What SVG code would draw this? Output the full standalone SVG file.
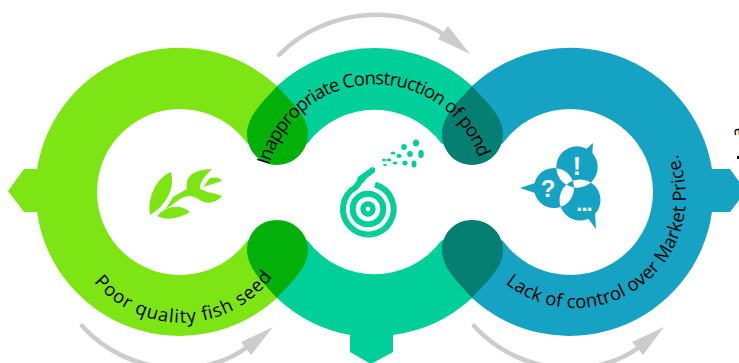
<svg xmlns="http://www.w3.org/2000/svg" width="739" height="363" viewBox="0 0 739 363">
<style>
.t{font-family:"Open Sans","Noto Sans","Liberation Sans",sans-serif;font-size:18.500px;fill:#000}
.a{fill:none;stroke:#ccc;stroke-width:4.500;stroke-linecap:round}
.h{fill:#ccc}
.g{fill:#7de514}.c{fill:#00cf9a}.b{fill:#16a2c2}
.dg{fill:#02b009}.dt{fill:#047f72}
.i{font-family:"Liberation Sans",sans-serif;font-weight:700;fill:#fff;text-anchor:middle}
</style>
<defs>
<path id="p1" d="M94 282A114 114 0 0 0 276 272"/>
<path id="p2" d="M269 165.500A110 110 0 0 1 481.300 165.500"/>
<path id="p3" d="M505.400 283.500A111 111 0 0 0 677 153.300"/>
<path id="dt" d="M0 0C-12 14 -30 29 -30 48C-30 65 -17 79 0 79C17 79 31 65 31 48C31 29 12 14 0 0Z"/>
<path id="db" d="M0 0C-12 -14 -30 -29 -30 -48C-30 -65 -17 -78 0 -78C17 -78 31 -65 31 -48C31 -29 12 -14 0 0Z"/>
</defs>
<g id="connectors">
<path class="a" d="M279 55C325 8 400 3 446 36"/><polygon class="h" points="470,54 448,26 438,39"/>
<path class="a" d="M82 326C130 378 205 378 246 348"/><polygon class="h" points="273,327 241,342 251,355"/>
<path class="a" d="M474 326C522 378 597 378 638 348"/><polygon class="h" points="664,327 632,342 643,355"/>
</g>
<g id="node-teal">
<path class="c" d="M277 86A144 144 0 0 1 472 86L500 134 472 160 441 143A83 83 0 0 0 308 143L277 160 250 134Z"/>
<path class="c" d="M277 298A144 144 0 0 0 350 335V352L371 364 393 352V335A144 144 0 0 0 472 298L500 250 472 225 441 241A83 83 0 0 1 308 241L277 225 250 250Z"/>
</g>
<g id="node-green">
<path class="g" d="M277 86A144 144 0 0 0 37 169H24L8 191 24 212H37A144 144 0 0 0 277 298L300 250 277 225 247 241A83 83 0 1 1 247 143L277 160 300 134Z"/>
<use href="#dt" x="277" y="86" class="dg"/><use href="#db" x="277" y="298" class="dg"/>
<g class="g">
<path d="M171 172C156 178 147 198 150 215C162 208 176 192 171 172Z"/>
<path d="M157 216C165 220 176 220 190 212C182 205 168 204 157 216Z"/>
<path d="M165 210 173 197 187 189C185 176 193 170 212 169C206 175 199 182 200 189L203 190C208 193 215 193 222 196C215 204 205 205 197 198C190 195 185 196 180 199Z"/>
<path d="M203 187 210 178C214 177 220 177 222 181Z"/>
</g>
</g>
<g id="node-blue">
<path class="b" d="M472 86A144 144 0 0 1 712 169H730L746 191 730 212H712A144 144 0 0 1 472 298L450 250 472 225 503 241A83 83 0 1 0 503 143L472 160 450 134Z"/>
<use href="#dt" x="472" y="86" class="dt"/><use href="#db" x="472" y="298" class="dt"/>
<path class="b" fill-rule="evenodd" d="M556.300 167a20.700 20.700 0 1 0 41.400 0a20.700 20.700 0 1 0-41.400 0ZM534 188a20 20 0 1 0 40 0a20 20 0 1 0-40 0ZM559.500 200a20.500 20.500 0 1 0 41 0a20.500 20.500 0 1 0-41 0Z"/>
<polygon class="b" points="583,152 593,143 592,157"/>
<polygon class="b" points="535,183 520,188 535,193"/>
<polygon class="b" points="587,217 596,229 595,213"/>
<text class="i" x="577" y="175" font-size="25">!</text>
<text class="i" x="548" y="197" font-size="24">?</text>
<text class="i" x="584" y="211" font-size="22" letter-spacing="-1">...</text>
</g>
<g id="node-hose">
<path fill="none" stroke="#00cf9a" stroke-width="6" d="M375 184.700A25.300 25.300 0 1 1 356 187L361 180"/>
<circle cx="368" cy="209" r="15.300" fill="none" stroke="#00cf9a" stroke-width="6"/>
<circle cx="368" cy="209" r="5" fill="none" stroke="#00cf9a" stroke-width="5.400"/>
<polygon class="c" points="375,168 372,167 358,177 357,180 363,183 367,178 375,172"/>
<g class="c">
<ellipse cx="416" cy="143" rx="3" ry="3.500"/><ellipse cx="404" cy="147" rx="2.800" ry="3"/><ellipse cx="421" cy="154" rx="2.800" ry="4"/>
<ellipse cx="410" cy="154" rx="2.800" ry="3"/><ellipse cx="399" cy="156" rx="2.600" ry="2"/><ellipse cx="393" cy="153" rx="2.400" ry="1.600"/>
<ellipse cx="405" cy="163" rx="2.600" ry="2.500"/><ellipse cx="414" cy="164" rx="2.500" ry="3.500"/>
<ellipse cx="395" cy="163" rx="2.500" ry="1.600"/><ellipse cx="389" cy="160" rx="2.200" ry="1.400"/><ellipse cx="384" cy="160" rx="2" ry="1.200"/><ellipse cx="385" cy="165" rx="2" ry="1"/>
</g>
</g>
<g id="labels">
<text class="t"><textPath href="#p1" textLength="205">Poor quality fish seed</textPath></text>
<text class="t"><textPath href="#p2" textLength="279">Inappropriate Construction of pond</textPath></text>
<text class="t"><textPath href="#p3" textLength="293">Lack of control over Market Price.</textPath></text>
<text class="t" transform="translate(744 138) rotate(-85)">a</text>
<rect x="737" y="156" width="2" height="3" fill="#000"/>
</g>
</svg>
